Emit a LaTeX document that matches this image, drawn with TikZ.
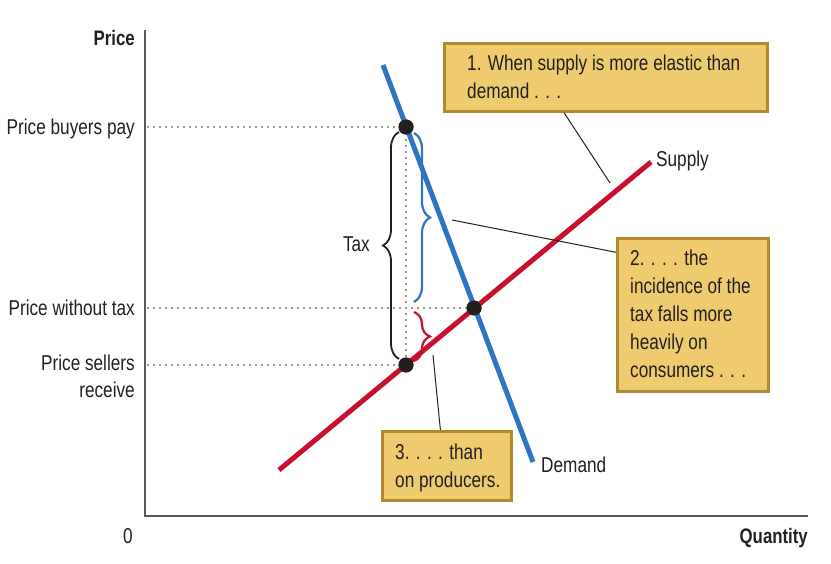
\documentclass[tikz,border=0pt]{standalone}
\usepackage{fontspec}
\setmainfont{Liberation Sans}[FakeStretch=0.8]
\usetikzlibrary{decorations.pathreplacing,calc}
\definecolor{dblue}{HTML}{2E74C0}
\definecolor{sred}{HTML}{C8102E}
\definecolor{boxfill}{HTML}{EECB6E}
\definecolor{boxedge}{HTML}{B08A2E}
\definecolor{ink}{HTML}{231F20}
\definecolor{axisgray}{HTML}{5A5A5A}
\definecolor{dotgray}{HTML}{9A9A9A}
\begin{document}
\begin{tikzpicture}[x=1pt,y=-1pt,
  lbl/.style={inner sep=0pt, font=\fontsize{21.5}{28}\selectfont, text=ink, align=left},
  lblr/.style={inner sep=0pt, font=\fontsize{21.5}{27}\selectfont, text=ink, align=right},
  bold/.style={inner sep=0pt, font=\fontsize{21}{28}\selectfont\bfseries, text=ink},
  callout/.style={draw=boxedge, line width=3pt, fill=boxfill, inner sep=0pt},
  guide/.style={dotgray, line width=2pt, dash pattern=on 2pt off 4pt},
  curve/.style={line width=5pt},
  pointer/.style={ink, line width=1pt},
  eqdot/.style={circle, fill=ink, inner sep=0pt, minimum size=15pt},
  bracestyle/.style={line width=2.2pt, decorate, decoration={brace, amplitude=16pt}}
]
\useasboundingbox (0,0) rectangle (831,564);

% axes
\coordinate (O) at (145,516);
\coordinate (ytop) at (145,30);
\coordinate (xend) at (808,516);
\draw[axisgray, line width=2pt] (ytop) -- (O) -- (xend);

% points
\node[eqdot] (A) at (406,127) {};
\node[eqdot] (E) at (474,308) {};
\node[eqdot] (B) at (406,365) {};
\coordinate (yA) at (147,127);
\coordinate (yE) at (147,308);
\coordinate (yB) at (147,365);

% guides
\draw[guide] (yA) -- (A.center);
\draw[guide] (yE) -- (E.center);
\draw[guide] (yB) -- (B.center);
\draw[guide] (A.center) -- (B.center);

% braces
\draw[bracestyle, ink, line width=1.8pt] (399,359) -- (399,132);
\draw[bracestyle, dblue] (414,133) -- (414,302);
\draw[bracestyle, sred] (414,312) -- (414,361);

% curves
\coordinate (d1) at (383,65);
\coordinate (d2) at (533,462);
\coordinate (s1) at (279,470);
\coordinate (s2) at (651,162);
\draw[curve, dblue] (d1) -- (d2);
\draw[curve, sred] (s1) -- (s2);

% redraw dots on top
\fill[ink] (A) circle (7.5);
\fill[ink] (E) circle (7.5);
\fill[ink] (B) circle (7.5);

% axis labels
\node[bold, anchor=base east] (ptitle) at (135,46) {Price};
\node[bold, anchor=base east] (qtitle) at (808,543) {Quantity};
\node[lbl, anchor=base] (zero) at (128,543) {0};
\node[lbl, anchor=base east] (pbp) at (135,135) {Price buyers pay};
\node[lbl, anchor=base east] (pwt) at (135,316) {Price without tax};
\node[lblr, anchor=north east] (psr) at (135,355) {Price sellers\\receive};
\node[lbl, anchor=base east] (tax) at (370,252) {Tax};
\node[lbl, anchor=base west] (sup) at (656,167) {Supply};
\node[lbl, anchor=base west] (dem) at (541,472) {Demand};

% callouts
\node[callout, minimum width=323pt, minimum height=68pt, anchor=north west] (b1) at (443,42) {};
\node[lbl, anchor=north west] (t1) at (467,55) {1. When supply is more elastic than\\demand . . .};
\node[callout, minimum width=151pt, minimum height=153pt, anchor=north west] (b2) at (616,237) {};
\node[lbl, anchor=north west] (t2) at (630,250) {2. . . . the\\incidence of the\\tax falls more\\heavily on\\consumers . . .};
\node[callout, minimum width=129pt, minimum height=69pt, anchor=north west] (b3) at (381,430) {};
\node[lbl, anchor=north west] (t3) at (395,444) {3. . . . than\\on producers.};

% pointers
\coordinate (p1) at (610,183);
\coordinate (p2) at (452,220);
\coordinate (p3) at (433,355);
\draw[pointer] ($(b1.south west)!0.372!(b1.south east)$) -- (p1);
\draw[pointer] ($(b2.north west)!0.098!(b2.south west)$) -- (p2);
\draw[pointer] ($(b3.north west)!0.45!(b3.north east)$) -- (p3);
\end{tikzpicture}
\end{document}
